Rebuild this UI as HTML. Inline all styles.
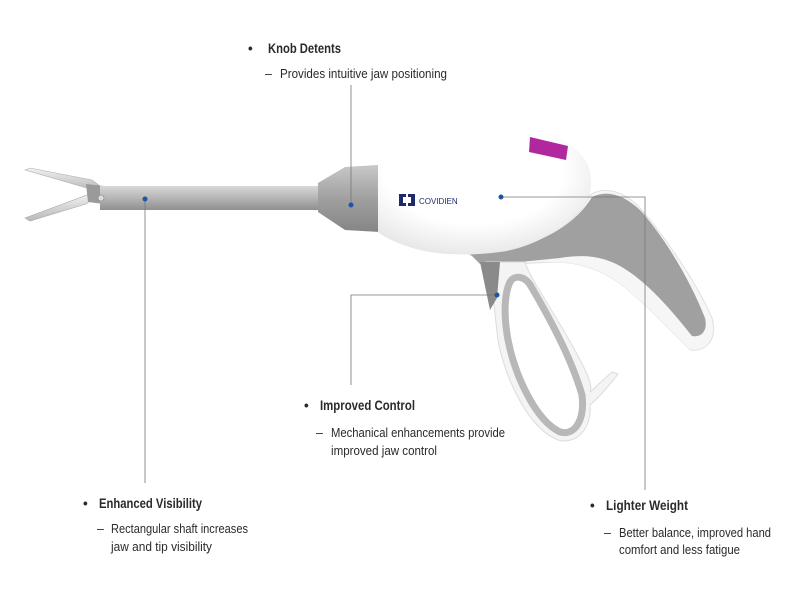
<!DOCTYPE html>
<html><head><meta charset="utf-8"><style>
html,body{margin:0;padding:0;background:#fff;width:800px;height:600px;overflow:hidden}
svg text{font-family:"Liberation Sans Narrow","Liberation Sans",sans-serif;fill:#2a2a2a}
.h{font-weight:bold;font-size:13.5px}
.s{font-size:12.5px}
</style></head><body>
<svg width="800" height="600" viewBox="0 0 800 600" xmlns="http://www.w3.org/2000/svg">
<defs>
<linearGradient id="sh" x1="0" y1="0" x2="0" y2="1"><stop offset="0" stop-color="#d8d8d8"/><stop offset="0.5" stop-color="#b5b5b5"/><stop offset="1" stop-color="#8f8f8f"/></linearGradient>
<linearGradient id="cn" x1="0" y1="0" x2="0" y2="1"><stop offset="0" stop-color="#c8c8c8"/><stop offset="0.5" stop-color="#a0a0a0"/><stop offset="1" stop-color="#858585"/></linearGradient>
<linearGradient id="jw" x1="0" y1="0" x2="0" y2="1"><stop offset="0" stop-color="#f2f2f2"/><stop offset="1" stop-color="#b8b8b8"/></linearGradient>
<radialGradient id="bd" cx="0.45" cy="0.35" r="0.7"><stop offset="0.6" stop-color="#ffffff"/><stop offset="1" stop-color="#e4e4e4"/></radialGradient>
</defs>
<path d="M25,170 L30,168 L92,180 L100,186 L94,190 Z" fill="url(#jw)" stroke="#aaa" stroke-width="0.6"/>
<path d="M25,218 L30,221 L86,204 L96,196 L90,194 Z" fill="url(#jw)" stroke="#aaa" stroke-width="0.6"/>
<path d="M86,184 L104,186 L104,204 L88,202 Z" fill="#9a9a9a"/>
<rect x="100" y="186" width="220" height="24" fill="url(#sh)"/>
<circle cx="101" cy="198" r="3" fill="#ddd" stroke="#888" stroke-width="0.6"/>
<path d="M318,183 L345,167 L378,165 L380,232 L345,230 L318,212 Z" fill="url(#cn)"/>
<!-- grip white -->
<path d="M470,255 C540,250 575,225 590,195 C605,185 625,192 640,208 C672,245 700,290 712,318 C718,340 706,352 690,350 C665,325 640,298 618,282 C598,268 575,262 555,262 L490,265 Z" fill="#f6f6f6" stroke="#e0e0e0" stroke-width="1"/>
<!-- grey band (thick) -->
<path d="M470,254 C545,250 578,220 592,197 C610,188 628,198 642,212 C670,245 692,285 705,318 C708,330 702,338 692,336 C670,308 645,280 620,266 C600,255 580,255 560,260 L480,264 Z" fill="#a0a0a0"/>
<path d="M520,262 L560,258 C585,254 605,256 625,270 C650,290 672,318 690,340 L690,350 C665,325 640,298 618,282 C598,268 575,262 555,262 Z" fill="#f6f6f6"/>
<!-- trigger loop -->
<path d="M486,262 L525,262 C530,280 560,320 580,360 C590,378 592,388 590,392 L612,372 L618,374 C610,385 598,398 590,405 C592,430 575,445 558,440 C530,430 505,380 498,340 C494,310 494,290 486,262 Z" fill="#f4f4f4" stroke="#dcdcdc" stroke-width="1"/>
<path d="M510,282 C515,274 526,276 532,288 C552,322 572,360 582,395 C585,420 575,436 560,432 C535,420 515,375 508,340 C503,312 505,292 510,282 Z" fill="#fff" stroke="#b8b8b8" stroke-width="7"/>
<path d="M480,262 L500,262 L497,298 L490,310 Z" fill="#8a8a8a"/>
<!-- body -->
<path d="M378,165 C390,140 440,122 490,124 C540,126 575,140 588,165 C595,185 590,200 580,210 C560,232 530,248 500,252 C470,256 440,255 420,250 C400,245 385,238 378,232 Z" fill="url(#bd)"/>
<path d="M530,137 L568,146 L566,160 L529,152 Z" fill="#b1279e"/>
<rect x="399" y="194" width="4" height="12" fill="#1f2a6b"/><rect x="399" y="194" width="7" height="3" fill="#1f2a6b"/><rect x="399" y="203" width="7" height="3" fill="#1f2a6b"/>
<rect x="411" y="194" width="4" height="12" fill="#1f2a6b"/><rect x="408" y="194" width="7" height="3" fill="#1f2a6b"/><rect x="408" y="203" width="7" height="3" fill="#1f2a6b"/>
<text x="419" y="204" style="font-size:8px;fill:#1f2a6b;font-family:'Liberation Sans',sans-serif">COVIDIEN</text>
<g stroke="#777" stroke-width="0.8" fill="none">
<line x1="351" y1="85" x2="351" y2="205"/>
<line x1="145" y1="200" x2="145" y2="483"/>
<polyline points="497,295 351,295 351,385"/>
<polyline points="501,197 645,197 645,490"/>
</g>
<g fill="#1a56a8">
<circle cx="351" cy="205" r="2.5"/><circle cx="145" cy="199" r="2.5"/><circle cx="497" cy="295" r="2.5"/><circle cx="501" cy="197" r="2.5"/>
</g>
<text class="h" x="248" y="53">•</text><text class="h" x="268" y="53" textLength="73" lengthAdjust="spacingAndGlyphs">Knob Detents</text>
<text class="s" x="265" y="78">–</text><text class="s" x="280" y="78" textLength="167" lengthAdjust="spacingAndGlyphs">Provides intuitive jaw positioning</text>
<text class="h" x="304" y="410">•</text><text class="h" x="320" y="410" textLength="95" lengthAdjust="spacingAndGlyphs">Improved Control</text>
<text class="s" x="316" y="437">–</text><text class="s" x="331" y="437" textLength="174" lengthAdjust="spacingAndGlyphs">Mechanical enhancements provide</text>
<text class="s" x="331" y="455" textLength="106" lengthAdjust="spacingAndGlyphs">improved jaw control</text>
<text class="h" x="83" y="508">•</text><text class="h" x="99" y="508" textLength="103" lengthAdjust="spacingAndGlyphs">Enhanced Visibility</text>
<text class="s" x="97" y="533">–</text><text class="s" x="111" y="533" textLength="137" lengthAdjust="spacingAndGlyphs">Rectangular shaft increases</text>
<text class="s" x="111" y="551" textLength="101" lengthAdjust="spacingAndGlyphs">jaw and tip visibility</text>
<text class="h" x="590" y="510">•</text><text class="h" x="606" y="510" textLength="82" lengthAdjust="spacingAndGlyphs">Lighter Weight</text>
<text class="s" x="604" y="537">–</text><text class="s" x="619" y="537" textLength="152" lengthAdjust="spacingAndGlyphs">Better balance, improved hand</text>
<text class="s" x="619" y="554" textLength="121" lengthAdjust="spacingAndGlyphs">comfort and less fatigue</text>
</svg>
</body></html>
